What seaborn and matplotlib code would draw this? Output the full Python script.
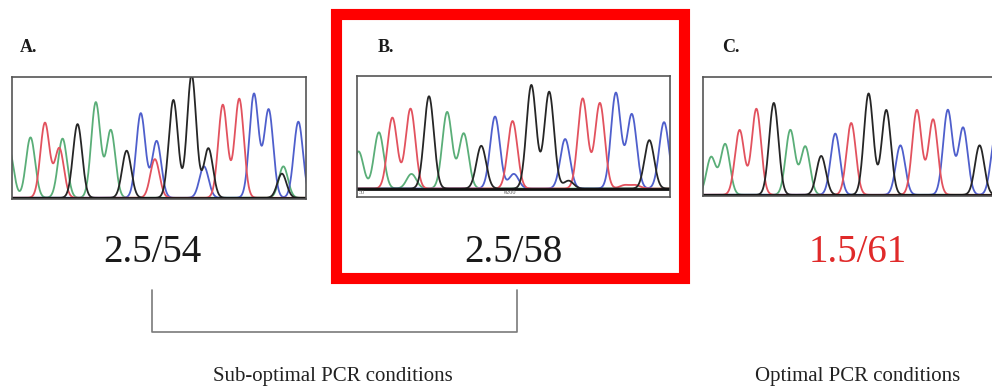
import numpy as np
import pandas as pd
import matplotlib.pyplot as plt
import seaborn as sns

# peak calls: position and height as fractions of the trace window
a_pos = [-0.01, 0.063, 0.112, 0.161, 0.172, 0.223, 0.285, 0.336, 0.390, 0.438, 0.492, 0.486,
         0.549, 0.611, 0.668, 0.653, 0.717, 0.773, 0.823, 0.873, 0.923, 0.918, 0.974]
a_height = [0.40, 0.50, 0.62, 0.41, 0.49, 0.61, 0.79, 0.56, 0.39, 0.70, 0.47, 0.32,
            0.81, 1.02, 0.41, 0.26, 0.77, 0.82, 0.86, 0.73, 0.26, 0.20, 0.63]
a_base = ["A", "A", "T", "T", "A", "G", "A", "A", "G", "C", "C", "T",
          "G", "G", "G", "C", "T", "T", "C", "C", "A", "G", "C"]

b_pos = [0.005, 0.070, 0.113, 0.171, 0.174, 0.230, 0.288, 0.341, 0.397, 0.441, 0.497, 0.501,
         0.557, 0.614, 0.665, 0.676, 0.721, 0.776, 0.827, 0.878, 0.934, 0.981, 0.855, 0.890]
b_height = [0.33, 0.50, 0.63, 0.71, 0.13, 0.82, 0.68, 0.49, 0.38, 0.64, 0.60, 0.13,
            0.92, 0.86, 0.44, 0.07, 0.80, 0.76, 0.85, 0.66, 0.43, 0.59, 0.03, 0.03]
b_base = ["A", "A", "T", "T", "A", "G", "A", "A", "G", "C", "T", "C",
          "G", "G", "C", "G", "T", "T", "C", "C", "G", "C", "T", "T"]

c_pos = [0.027, 0.074, 0.122, 0.178, 0.236, 0.291, 0.341, 0.394, 0.441, 0.494, 0.552, 0.611,
         0.658, 0.713, 0.767, 0.816, 0.867, 0.922, 0.975]
c_height = [0.32, 0.43, 0.55, 0.73, 0.78, 0.55, 0.41, 0.33, 0.52, 0.61, 0.86, 0.72,
            0.42, 0.72, 0.64, 0.72, 0.57, 0.42, 0.50]
c_base = ["A", "A", "T", "T", "G", "A", "A", "G", "C", "T", "G", "G",
          "C", "T", "T", "C", "C", "G", "C"]

panel_labels = ["A.", "B.", "C."]
ratios = ["2.5/54", "2.5/58", "1.5/61"]
groups = ["Sub-optimal PCR conditions", "Optimal PCR conditions"]

base_colors = {"A": "#5aae78", "C": "#4f5fcc", "G": "#262626", "T": "#e2525e"}

W, H = 992, 391


def trace(pos, height, base, sigma=0.0155):
    x = np.linspace(-0.05, 1.05, 900)
    frames = []
    for b in ["A", "C", "T", "G"]:
        y = np.zeros_like(x)
        for p, h, bb in zip(pos, height, base):
            if bb == b:
                y += h * np.exp(-0.5 * ((x - p) / sigma) ** 2)
        frames.append(pd.DataFrame({"pos": x, "signal": y, "base": b}))
    return pd.concat(frames, ignore_index=True)


def box(left, top, right, bottom):
    return [left / W, 1 - bottom / H, (right - left) / W, (bottom - top) / H]


sns.set_style("white")
plt.rcParams["font.family"] = ["Liberation Serif", "DejaVu Serif"]

fig = plt.figure(figsize=(W / 100, H / 100), dpi=100)

panels = [
    (box(12, 77, 306, 199), trace(a_pos, a_height, a_base), -0.01),
    (box(357, 76, 670, 197), trace(b_pos, b_height, b_base), -0.075),
    (box(703, 77, 1003, 196), trace(c_pos, c_height, c_base), -0.01),
]

for i, (rect, df, ybot) in enumerate(panels):
    ax = fig.add_axes(rect)
    sns.lineplot(data=df, x="pos", y="signal", hue="base", palette=base_colors,
                 hue_order=["A", "C", "T", "G"], estimator=None, sort=False,
                 legend=False, linewidth=1.3, ax=ax)
    ax.axhline(0, color="#111111", lw=2.0)
    ax.set_xlim(0, 1)
    ax.set_ylim(ybot, 1.0)
    ax.set_xticks([])
    ax.set_yticks([])
    ax.set_xlabel("")
    ax.set_ylabel("")
    for s in ax.spines.values():
        s.set_color("#555555")
        s.set_linewidth(1.2)
    if i == 1:
        ax.text(0.005, ybot / 2, "50", fontsize=4.5, color="#666666",
                va="center", ha="left", transform=ax.transData)
        ax.text(0.47, ybot / 2, "#200", fontsize=4.5, color="#555555",
                va="center", ha="left", transform=ax.transData)

# panel letters
for (x, y), lab in zip([(20, 47), (378, 47), (722, 47)], panel_labels):
    fig.text(x / W, 1 - y / H, lab, fontsize=13, fontweight="bold",
             ha="left", va="center", color="#1a1a1a")

# ratio labels
for (x, y), lab, c in zip([(152, 252), (513, 252), (858, 252)], ratios,
                          ["#1a1a1a", "#1a1a1a", "#e02a2a"]):
    fig.text(x / W, 1 - y / H, lab, fontsize=28, ha="center", va="center", color=c)

# bracket joining A and B
bx = [152 / W, 152 / W, 517 / W, 517 / W]
by = [1 - 290 / H, 1 - 332 / H, 1 - 332 / H, 1 - 290 / H]
fig.add_artist(plt.Line2D(bx, by, color="#7a7a7a", lw=1.2))

fig.text(333 / W, 1 - 376 / H, groups[0], fontsize=15, ha="center", va="center", color="#222222")
fig.text(858 / W, 1 - 376 / H, groups[1], fontsize=15, ha="center", va="center", color="#222222")

# red highlight around panel B
fig.add_artist(plt.Rectangle((335.5 / W, 1 - 277.5 / H), 348 / W, 264 / H,
                             fill=False, edgecolor="#ff0000", lw=8, transform=fig.transFigure))

fig.savefig("out.png", dpi=100)
